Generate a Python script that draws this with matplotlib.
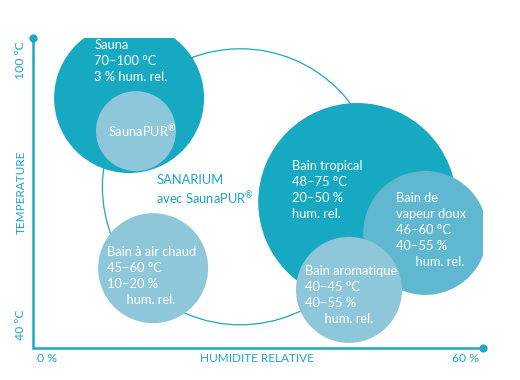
import numpy as np
import matplotlib
matplotlib.use("Agg")
import matplotlib.pyplot as plt

plt.rcParams['font.family'] = ['Lato', 'DejaVu Sans']
plt.rcParams['mathtext.fontset'] = 'custom'
plt.rcParams['mathtext.rm'] = 'Lato'

# bubbles: centre (relative humidity %, temperature °C) and radius in px
names = ["Sauna", "SaunaPUR", "Bain tropical", "Bain de vapeur doux",
         "Bain aromatique", "Bain à air chaud"]
humidity = [11.8, 12.8, 45.0, 54.9, 43.8, 15.3]
temperature = [91.7, 84.1, 67.8, 60.7, 47.6, 52.6]
radius_px = [75, 40, 99, 62, 53, 55]
colors = ["#17a8c2", "#8fc7da", "#17a8c2", "#5fb8cf", "#8fc7da", "#8fc7da"]

labels = ["Sauna\n70–100 °C\n3 % hum. rel.",
          r"SaunaPUR$^{\mathrm{®}}$",
          "Bain tropical\n48–75 °C\n20–50 %\nhum. rel.",
          "Bain de\nvapeur doux\n46–60 °C\n40–55 %\n      hum. rel.",
          "Bain aromatique\n40–45 °C\n40–55 %\n      hum. rel.",
          "Bain à air chaud\n45–60 °C\n10–20 %\n      hum. rel."]
label_offset_px = [(-35, -37.5), (6, 0), (-65, -12.5), (-29, -2.5), (-44, 5), (-46, 7.5)]

sanarium_h, sanarium_t, sanarium_r = 28.0, 71.3, 138

teal = "#1ea7c1"
px = 0.72  # points per pixel at dpi 100

fig = plt.figure(figsize=(5.2, 3.8), dpi=100)
ax = fig.add_axes([33 / 520, 32 / 380, 450 / 520, 310 / 380])
ax.set_xlim(-2.18, 63.3)
ax.set_ylim(34.25, 105.5)
ax.axis("off")
ax.patch.set_alpha(0)

# axis lines with end dots
ax.plot([-2.18, -2.18, 63.3], [105.5, 34.25, 34.25], color=teal, lw=1.8,
        solid_joinstyle="miter", clip_on=False)
ax.scatter([-2.18, 63.3], [105.5, 34.25], s=24, color=teal, clip_on=False, zorder=5)

# SANARIUM outline
ax.scatter([sanarium_h], [sanarium_t], s=(2 * sanarium_r * px) ** 2,
           facecolors="none", edgecolors=teal, linewidths=0.9, zorder=1)
ax.annotate("SANARIUM\navec SaunaPUR$^{\\mathrm{®}}$", (sanarium_h, sanarium_t),
            xytext=(-84 * px, -3.5 * px), textcoords="offset points",
            ha="left", va="center", color=teal, fontsize=9.3, linespacing=1.2)

sizes = [(2 * r * px) ** 2 for r in radius_px]
ax.scatter(humidity, temperature, s=sizes, c=colors, linewidths=0, zorder=2)

for i in range(len(names)):
    dx, dy = label_offset_px[i]
    ha = "center" if names[i] == "SaunaPUR" else "left"
    ax.annotate(labels[i], (humidity[i], temperature[i]),
                xytext=(dx * px, -dy * px), textcoords="offset points",
                ha=ha, va="center", color="white", fontsize=9.3,
                linespacing=1.4, zorder=3)

# axis texts
fig.text(21 / 520, 1 - 60 / 380, "100 °C", rotation=90, ha="center", va="center",
         color=teal, fontsize=8.8)
fig.text(21 / 520, 1 - 192 / 380, "TEMPERATURE", rotation=90, ha="center", va="center",
         color=teal, fontsize=8.5)
fig.text(21 / 520, 1 - 325 / 380, "40 °C", rotation=90, ha="center", va="center",
         color=teal, fontsize=8.8)
fig.text(47 / 520, 1 - 359 / 380, "0 %", ha="center", va="center", color=teal, fontsize=8.8)
fig.text(257 / 520, 1 - 359 / 380, "HUMIDITE RELATIVE", ha="center", va="center",
         color=teal, fontsize=8.5)
fig.text(466 / 520, 1 - 359 / 380, "60 %", ha="center", va="center", color=teal, fontsize=8.8)

fig.savefig("out.png", dpi=100, facecolor="white")
